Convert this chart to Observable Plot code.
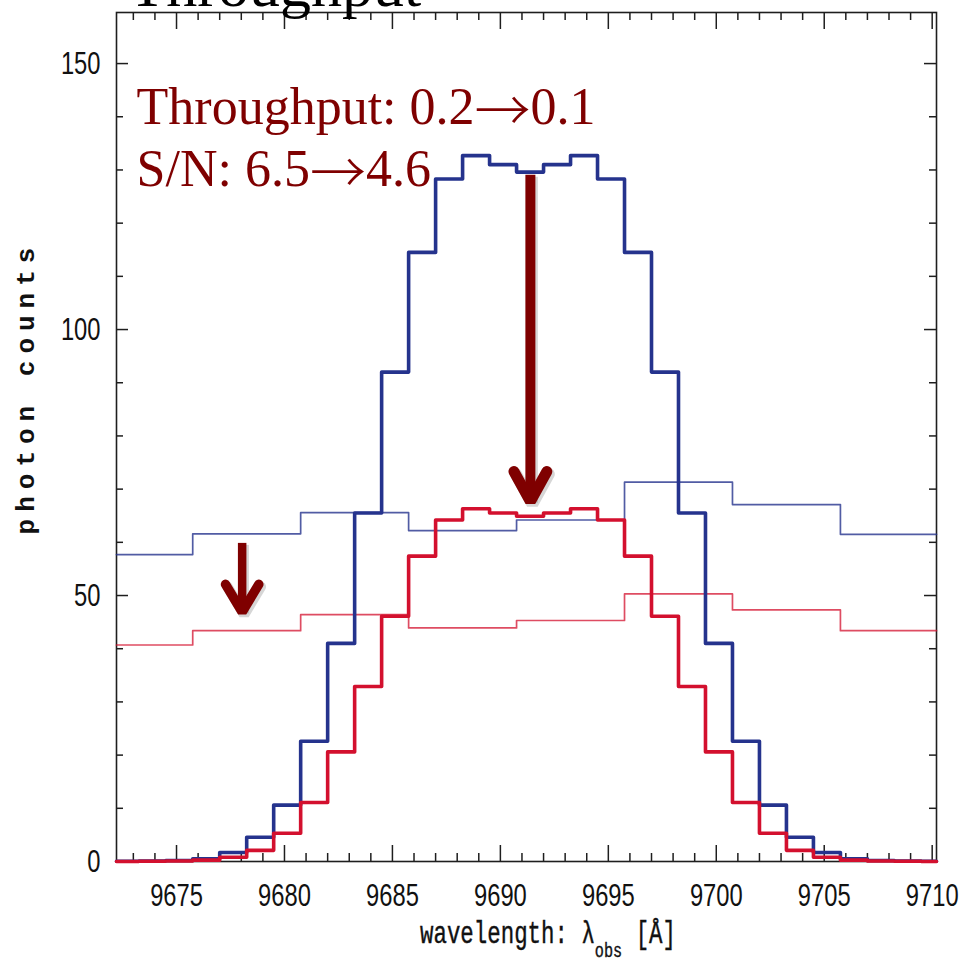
<!DOCTYPE html>
<html><head><meta charset="utf-8">
<script src="https://cdn.jsdelivr.net/npm/d3@7"></script>
<script src="https://cdn.jsdelivr.net/npm/@observablehq/plot@0.6"></script>
<style>html,body{margin:0;padding:0;background:#fff;overflow:hidden}#chart svg{display:block}</style>
</head><body><div id="chart"></div>
<script>
// ---------- data ----------
const fineEdges = [9672.0, 9673.25, 9674.5, 9675.75, 9677.0, 9678.25, 9679.5, 9680.75, 9682.0, 9683.25,
  9684.5, 9685.75, 9687.0, 9688.25, 9689.5, 9690.75, 9692.0, 9693.25, 9694.5, 9695.75, 9697.0, 9698.25,
  9699.5, 9700.75, 9702.0, 9703.25, 9704.5, 9705.75, 9707.0, 9708.25, 9709.5, 9710.75];
const blueFine = [0.05, 0.1, 0.2, 0.5, 1.7, 4.55, 10.6, 22.6, 41.0, 65.5, 92.0, 114.5, 128.3, 132.7, 131.0,
  129.6, 131.0, 132.7, 128.3, 114.5, 92.0, 65.5, 41.0, 22.6, 10.6, 4.55, 1.7, 0.5, 0.2, 0.1, 0.05];
const redFine = [0.0, 0.05, 0.1, 0.25, 0.8, 2.1, 5.3, 11.1, 20.6, 32.9, 46.1, 57.4, 64.2, 66.3, 65.5,
  64.9, 65.5, 66.3, 64.2, 57.4, 46.1, 32.9, 20.6, 11.1, 5.3, 2.1, 0.8, 0.25, 0.1, 0.05, 0.0];
const coarseEdges = [9670.75, 9675.75, 9680.75, 9685.75, 9690.75, 9695.75, 9700.75, 9705.75, 9710.75];
const blueCoarse = [57.7, 61.6, 65.6, 62.2, 64.2, 71.3, 67.1, 61.5];
const redCoarse = [40.7, 43.4, 46.4, 43.9, 45.3, 50.3, 47.3, 43.4];

const xDomain = [9672.22, 9710.2];
const yDomain = [0, 159.6];
const xTickLabels = [9675, 9680, 9685, 9690, 9695, 9700, 9705, 9710];
const xMinorTicks = [9673, 9674, 9676, 9677, 9678, 9679, 9681, 9682, 9683, 9684, 9686, 9687, 9688, 9689,
  9691, 9692, 9693, 9694, 9696, 9697, 9698, 9699, 9701, 9702, 9703, 9704, 9706, 9707, 9708, 9709];
const yTickLabels = [0, 50, 100, 150];
const yMinorTicks = [10, 20, 30, 40, 60, 70, 80, 90, 110, 120, 130, 140];

const titleText = ["Throughput"];
const annotLines = ["Throughput: 0.2\u21920.1", "S/N: 6.5\u21924.6"];
const annotX = [9673.15, 9673.15];
const annotY = [138.6, 126.9];
const xLabel = ["wavelength: \u03bb", "obs", " [\u00c5]"];
const yLabel = "photon counts";

// arrows (data units)
const arrowX = [9691.39, 9678.04];
const arrowTop = [129.0, 59.8];
const arrowTip = [67.7, 46.9];
const arrowHeadHalfWidth = [0.76, 0.77];
const arrowHeadHeight = [5.6, 5.2];

// ---------- layout ----------
const W = 962, H = 974;
const M = {top: 12, right: 26, bottom: 113, left: 116};
const frameW = W - M.left - M.right;
const frameH = H - M.top - M.bottom;

const clampX = x => Math.max(xDomain[0], Math.min(xDomain[1], x));
function steps(edges, values) {
  const pts = values.map((v, i) => ({x: clampX(edges[i]), y: v}));
  pts.push({x: clampX(edges[values.length]), y: values[values.length - 1]});
  return pts;
}
function chevron(i) {
  return [
    {x: arrowX[i] - arrowHeadHalfWidth[i], y: arrowTip[i] + arrowHeadHeight[i]},
    {x: arrowX[i], y: arrowTip[i]},
    {x: arrowX[i] + arrowHeadHalfWidth[i], y: arrowTip[i] + arrowHeadHeight[i]}
  ];
}
const shaft = i => [{x: arrowX[i], y1: arrowTop[i], y2: arrowTip[i]}];

const axisColor = "#1e1e1e";
const blue = "#25338d", red = "#d3102e", maroon = "#7f0000";
const serif = "'Liberation Serif','Times New Roman',serif";
const sans = "'Liberation Sans Narrow','Liberation Sans',Arial,sans-serif";
const mono = "'Liberation Mono','Courier New',monospace";

function arrowMarks(i, sw, swHead) {
  return [
    Plot.ruleX(shaft(i), {x: "x", y1: "y1", y2: "y2", stroke: "#777", strokeOpacity: 0.3, strokeWidth: sw + 1, dx: 2, dy: 2}),
    Plot.line(chevron(i), {x: "x", y: "y", stroke: "#777", strokeOpacity: 0.3, strokeWidth: swHead + 1, strokeLinecap: "round", strokeLinejoin: "miter", dx: 2, dy: 2.5}),
    Plot.ruleX(shaft(i), {x: "x", y1: "y1", y2: "y2", stroke: maroon, strokeWidth: sw}),
    Plot.line(chevron(i), {x: "x", y: "y", stroke: maroon, strokeWidth: swHead, strokeLinecap: "round", strokeLinejoin: "miter"})
  ];
}

const plot = Plot.plot({
  width: W, height: H,
  marginTop: M.top, marginRight: M.right, marginBottom: M.bottom, marginLeft: M.left,
  x: {domain: xDomain, axis: null},
  y: {domain: yDomain, axis: null},
  style: {background: "white", overflow: "visible"},
  marks: [
    Plot.frame({stroke: axisColor, strokeWidth: 1.6}),
    Plot.ruleX(xTickLabels, {stroke: axisColor, strokeWidth: 1.5, insetTop: frameH - 16}),
    Plot.ruleX(xMinorTicks, {stroke: axisColor, strokeWidth: 1.5, insetTop: frameH - 8}),
    Plot.ruleX(xTickLabels, {stroke: axisColor, strokeWidth: 1.5, insetBottom: frameH - 17}),
    Plot.ruleX(xMinorTicks, {stroke: axisColor, strokeWidth: 1.5, insetBottom: frameH - 8}),
    Plot.ruleY(yTickLabels, {stroke: axisColor, strokeWidth: 1.5, insetRight: frameW - 12}),
    Plot.ruleY(yMinorTicks, {stroke: axisColor, strokeWidth: 1.5, insetRight: frameW - 7}),
    Plot.ruleY(yTickLabels, {stroke: axisColor, strokeWidth: 1.5, insetLeft: frameW - 12}),
    Plot.ruleY(yMinorTicks, {stroke: axisColor, strokeWidth: 1.5, insetLeft: frameW - 7}),
    Plot.text(xTickLabels, {x: d => d, text: d => String(d), frameAnchor: "bottom", lineAnchor: "top", dy: 22,
      fontSize: 32, fontFamily: sans, fill: "#111"}),
    Plot.text(yTickLabels, {y: d => d, text: d => String(d), frameAnchor: "left", textAnchor: "end", dx: -16,
      fontSize: 32, fontFamily: sans, fill: "#111"}),
    Plot.line(steps(coarseEdges, blueCoarse), {x: "x", y: "y", curve: "step-after", stroke: blue, strokeOpacity: 0.8, strokeWidth: 1.7}),
    Plot.line(steps(coarseEdges, redCoarse), {x: "x", y: "y", curve: "step-after", stroke: red, strokeOpacity: 0.75, strokeWidth: 1.7}),
    Plot.line(steps(fineEdges, blueFine), {x: "x", y: "y", curve: "step-after", stroke: blue, strokeWidth: 3.6}),
    Plot.line(steps(fineEdges, redFine), {x: "x", y: "y", curve: "step-after", stroke: red, strokeWidth: 3.6}),
    Plot.text(titleText, {text: d => d, frameAnchor: "top-left", dx: 12, dy: -7, lineAnchor: "bottom", textAnchor: "start",
      fontSize: 62, fontFamily: serif, fill: "#000"}),
    Plot.text(annotLines, {x: (d, i) => annotX[i], y: (d, i) => annotY[i], text: d => d, lineAnchor: "bottom", textAnchor: "start",
      fontSize: 52, fontFamily: serif, fill: maroon}),
    ...arrowMarks(0, 10, 11),
    ...arrowMarks(1, 8.5, 9.5)
  ]
});

document.getElementById("chart").appendChild(plot);
const svg = d3.select(plot);

// condensed tick digits
svg.selectAll("text").filter(function () { return /^\d+$/.test(this.textContent); }).each(function () {
  d3.select(this).attr("textLength", 13.2 * this.textContent.length).attr("lengthAdjust", "spacingAndGlyphs");
});

// long, thin arrows inside the annotation lines
svg.selectAll("text").filter(function () { return this.textContent.includes("\u2192"); }).each(function () {
  const parts = this.textContent.split("\u2192");
  const t = d3.select(this);
  t.text(null);
  t.append("tspan").text(parts[0]);
  t.append("tspan").attr("font-family", "'Noto Sans CJK JP','Noto Sans CJK SC',serif").attr("font-weight", 300)
    .attr("font-size", 56).attr("dy", 7).text("\u2192");
  t.append("tspan").attr("dy", -7).text(parts[1]);
});

// axis labels
const xl = svg.append("text")
  .attr("x", 420).attr("y", H - 31)
  .attr("text-anchor", "start").attr("font-family", mono).attr("font-size", 31).attr("fill", "#111")
  .attr("stroke", "#111").attr("stroke-width", 0.4)
  .attr("textLength", 256).attr("lengthAdjust", "spacingAndGlyphs");
xl.append("tspan").text(xLabel[0]);
xl.append("tspan").attr("dy", 14).attr("font-size", 21).text(xLabel[1]);
xl.append("tspan").attr("dy", -14).text(xLabel[2]);

svg.append("text")
  .attr("transform", `translate(25,${M.top + frameH / 2 - 49}) rotate(-90)`)
  .attr("text-anchor", "middle").attr("dy", "0.35em")
  .attr("font-family", mono).attr("font-size", 26).attr("font-weight", 600).attr("letter-spacing", 7)
  .attr("fill", "#111").text(yLabel);
</script>
</body></html>
